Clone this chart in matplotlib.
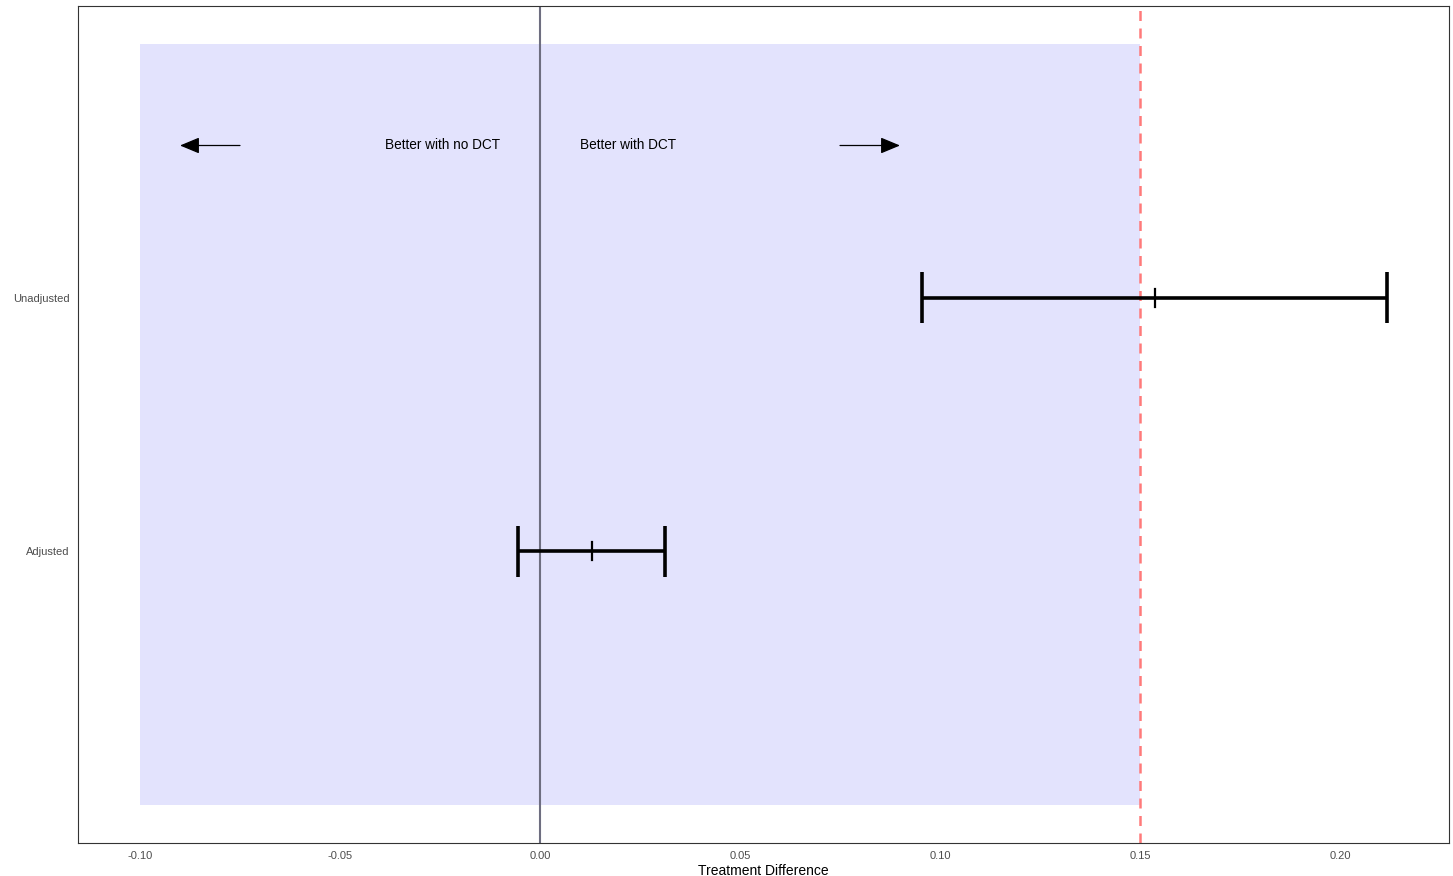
import matplotlib.pyplot as plt

plt.rcParams['font.family'] = ['Liberation Sans', 'DejaVu Sans']

# data
labels = ["Adjusted", "Unadjusted"]
estimates = [0.013, 0.15375]
lower = [-0.0055, 0.0955]
upper = [0.03125, 0.21175]
margin = 0.15
x_ticks = [-0.10, -0.05, 0.00, 0.05, 0.10, 0.15, 0.20]

W, H = 1453, 876
fig = plt.figure(figsize=(W / 100, H / 100), dpi=100)
ax = fig.add_axes([78 / W, 33 / H, (1449 - 78) / W, (843 - 6) / H])

ypos = [1, 2]

# shaded region
ax.fill_between([-0.10, margin], 0, 3, color='#e3e3fd', lw=0, zorder=0)

# reference lines
ax.axvline(0, color='#6e6e80', lw=1.5, zorder=1)
ax.axvline(margin, color='#ff7a7a', lw=1.8, ls=(0, (4, 3)), zorder=1)

# confidence intervals
for y, lo, hi, est in zip(ypos, lower, upper, estimates):
    ax.plot([lo, hi], [y, y], color='black', lw=2.6, solid_capstyle='butt', zorder=3)
    ax.plot([lo, lo], [y - 0.1, y + 0.1], color='black', lw=2.6, solid_capstyle='butt', zorder=3)
    ax.plot([hi, hi], [y - 0.1, y + 0.1], color='black', lw=2.6, solid_capstyle='butt', zorder=3)
    ax.plot([est, est], [y - 0.035, y + 0.035], color='black', lw=1.6, zorder=4)

# direction annotations
arrow = dict(arrowstyle='-|>,head_length=1.2,head_width=0.5', color='black', lw=0.9,
             shrinkA=0, shrinkB=0)
ax.annotate('', xy=(-0.09, 2.6), xytext=(-0.075, 2.6), arrowprops=arrow)
ax.annotate('', xy=(0.09, 2.6), xytext=(0.075, 2.6), arrowprops=arrow)
ax.text(-0.01, 2.6, 'Better with no DCT', ha='right', va='center', fontsize=9.8)
ax.text(0.01, 2.6, 'Better with DCT', ha='left', va='center', fontsize=9.8)

ax.set_xlim(-0.1155, 0.22725)
ax.set_ylim(-0.15, 3.15)
ax.set_xticks(x_ticks)
ax.set_xticklabels([f'{t:.2f}' for t in x_ticks])
ax.set_yticks(ypos)
ax.set_yticklabels(labels)
ax.tick_params(length=0, labelsize=8, labelcolor='#4d4d4d', pad=6)
ax.set_xlabel('Treatment Difference', fontsize=10, labelpad=2)

for s in ax.spines.values():
    s.set_linewidth(0.8)
    s.set_color('#333333')

fig.savefig('out.png', dpi=100)
